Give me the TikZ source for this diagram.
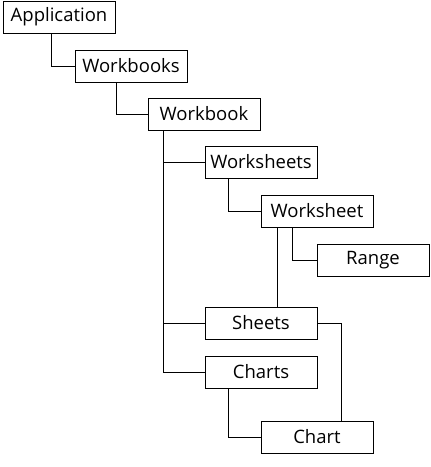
\documentclass[tikz,border=0pt]{standalone}
\usepackage{fontspec}
\setmainfont{Open Sans}
\usepackage{tikz}
\usetikzlibrary{positioning}

\begin{document}
\begin{tikzpicture}[x=1pt, y=-1pt, line width=0.9pt,
	   box/.style={draw, align=center, inner sep=0pt, minimum width=112pt, minimum height=32pt,
	     font=\fontsize{18.5}{21}\selectfont}]
	  \useasboundingbox (0,0) rectangle (431,467);
	  \node[box] (app) at (59,17) {Application};
	  \node[box] (wbs) at (131,66) {Workbooks};
	  \node[box] (wb) at (204,114) {Workbook};
	  \node[box] (wss) at (261,162) {Worksheets};
	  \node[box] (ws) at (317,211) {Worksheet};
	  \node[box] (rng) at (373,260) {Range};
	  \node[box] (shs) at (261,323) {Sheets};
	  \node[box] (chs) at (261,372) {Charts};
	  \node[box] (ch) at (317,437) {Chart};
	  % tree lines
	  \draw ([xshift=-8pt]app.south) |- (wbs.west);
	  \draw ([xshift=-15pt]wbs.south) |- (wb.west);
	  \draw ([xshift=-41pt]wb.south) |- (wss.west);
	  \draw ([xshift=-41pt]wb.south) |- (shs.west);
	  \draw ([xshift=-41pt]wb.south) |- (chs.west);
	  \draw ([xshift=-33pt]wss.south) |- (ws.west);
	  \draw ([xshift=-25pt]ws.south) |- (rng.west);
	  \draw ([xshift=-40pt]ws.south) -- ([xshift=-40pt]ws.south |- shs.north);
	  \draw ([xshift=-33pt]chs.south) |- (ch.west);
	  \draw (shs.east) -| ([xshift=24pt]ch.north);
	\end{tikzpicture}
\end{document}
